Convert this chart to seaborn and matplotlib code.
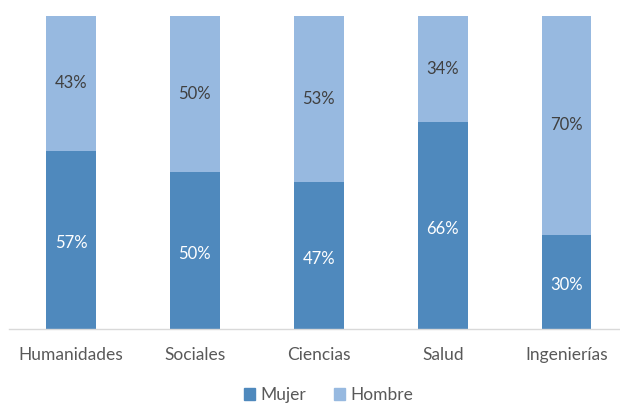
import matplotlib
matplotlib.use("Agg")
import matplotlib.pyplot as plt
import seaborn as sns
import pandas as pd
from matplotlib.patches import Patch

categories = ["Humanidades", "Sociales", "Ciencias", "Salud", "Ingenierías"]
mujer = [57, 50, 47, 66, 30]
hombre = [43, 50, 53, 34, 70]

dark = "#4F89BD"
light = "#97B9E0"

sns.set_style("white")
plt.rcParams["font.family"] = ["Lato", "DejaVu Sans"]

df = pd.DataFrame({"cat": categories, "Mujer": mujer, "Hombre": hombre})
df["total"] = df["Mujer"] + df["Hombre"]

fig = plt.figure(figsize=(6.2, 4.03), dpi=100)
ax = fig.add_axes([0.0145, 0.1836, 0.9855, 0.777])

sns.barplot(data=df, x="cat", y="total", color=light, width=0.4, ax=ax,
            saturation=1, edgecolor="none")
sns.barplot(data=df, x="cat", y="Mujer", color=dark, width=0.4, ax=ax,
            saturation=1, edgecolor="none")

for i, (m, h) in enumerate(zip(mujer, hombre)):
    ax.text(i, m / 2 - 1, f"{m}%", ha="center", va="center", color="white", fontsize=12)
    ax.text(i, m + h / 2, f"{h}%", ha="center", va="center", color="#404040", fontsize=12)

ax.set_ylim(0, 100)
ax.set_xlim(-0.5, 4.43)
ax.set_xlabel("")
ax.set_ylabel("")
ax.set_yticks([])
ax.tick_params(axis="x", length=0, pad=13, labelsize=12.5, labelcolor="#595959")
for s in ["top", "right", "left"]:
    ax.spines[s].set_visible(False)
ax.spines["bottom"].set_color("#D9D9D9")
ax.spines["bottom"].set_linewidth(1)

handles = [Patch(color=dark, label="Mujer"), Patch(color=light, label="Hombre")]
fig.legend(handles=handles, loc="center", bbox_to_anchor=(0.53, 0.02), ncol=2,
           frameon=False, handlelength=0.65, handleheight=0.65, handletextpad=0.3,
           columnspacing=1.6, prop={"size": 12.5}, labelcolor="#595959")

fig.savefig("out.png", dpi=100)
